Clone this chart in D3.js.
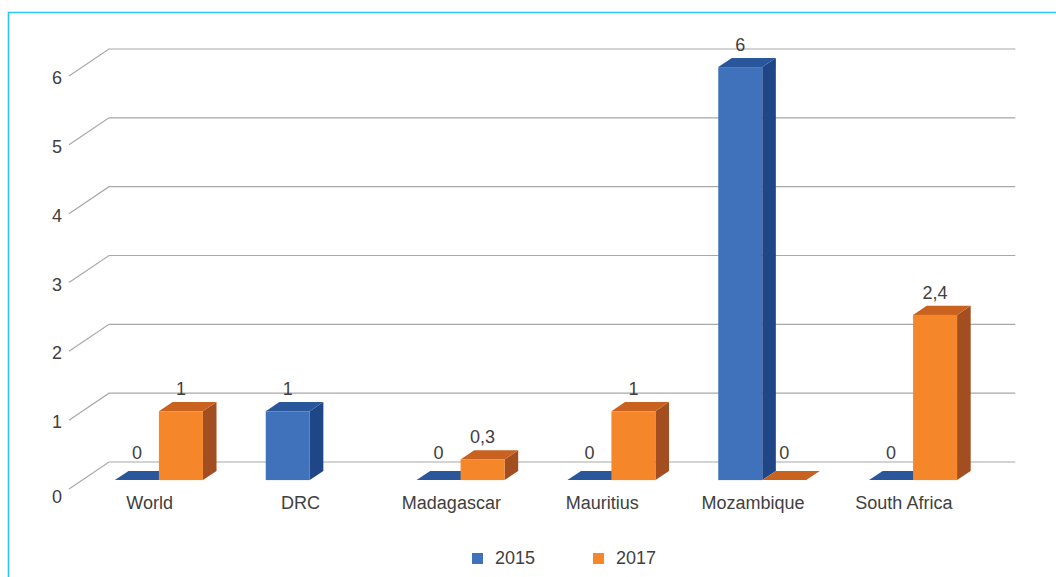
<!DOCTYPE html>
<html>
<head>
<meta charset="utf-8">
<script src="https://cdn.jsdelivr.net/npm/d3@7"></script>
<style>
  html, body { margin: 0; padding: 0; background: #fff; }
  svg { display: block; }
  text { font-family: "Liberation Sans", Arial, Helvetica, sans-serif; fill: #404040; }
</style>
</head>
<body>
<script>
const categories = ["World", "DRC", "Madagascar", "Mauritius", "Mozambique", "South Africa"];
const seriesNames = ["2015", "2017"];
const values2015 = [0, 1, 0, 0, 6, 0];
const values2017 = [1, null, 0.3, 1, 0, 2.4];
const yTicks = [0, 1, 2, 3, 4, 5, 6];
const tickLabels = ["0", "1", "2", "3", "4", "5", "6"];

const W = 1056, H = 577;
const svg = d3.select("body").append("svg").attr("width", W).attr("height", H);

// border
svg.append("path").attr("d", `M8.5,${H} L8.5,12.5 L${W},12.5`)
  .attr("fill", "none").attr("stroke", "#2ec3f2").attr("stroke-width", 1.6);

// scales (front plane of the floor)
const y = d3.scaleLinear().domain([0, 6]).range([489, 76]);
const x = d3.scaleBand().domain(categories).range([70.3, 975.3]).padding(0);
const xs = d3.scaleBand().domain(seriesNames).range([-44, 44]).padding(0);
const depth = { dx: 40, dy: -27 };
const t0 = 0.33, t1 = 0.67;

// gridlines (side wall diagonal + back wall horizontal)
const grid = svg.append("g");
yTicks.forEach(v => {
  const fy = y(v);
  grid.append("path")
    .attr("d", `M${x.range()[0] - 1.3},${fy} L${x.range()[0] - 1.3 + depth.dx},${fy + depth.dy} L${x.range()[1] + depth.dx},${fy + depth.dy}`)
    .attr("fill", "none").attr("stroke", "#a8a8a8").attr("stroke-width", 1.2);
});
// y tick labels
svg.append("g").selectAll("text").data(yTicks).join("text")
  .attr("x", 62).attr("y", d => y(d) + (d === 0 ? 8 : 2))
  .attr("text-anchor", "end").attr("dominant-baseline", "central")
  .attr("font-size", 18).text((d, i) => tickLabels[i]);

const colors = {
  "2015": { front: "#3f72ba", side: "#1f4787", top: "#2a579c" },
  "2017": { front: "#f5862a", side: "#a24e20", top: "#c9621f" }
};

const rows = [];
categories.forEach((c, i) => {
  rows.push({ cat: c, s: "2015", v: values2015[i] });
  rows.push({ cat: c, s: "2017", v: values2017[i] });
});

const bars = svg.append("g");
const labels = svg.append("g");
rows.forEach(r => {
  if (r.v === null || r.v === undefined) return;
  const cx = x(r.cat) + x.bandwidth() / 2 + xs(r.s);
  const xl = cx + t0 * depth.dx, xr = xl + xs.bandwidth();
  const yb = y(0) + t0 * depth.dy, yt = y(r.v) + t0 * depth.dy;
  const ddx = (t1 - t0) * depth.dx, ddy = (t1 - t0) * depth.dy;
  const col = colors[r.s];
  const g = bars.append("g");
  // side
  g.append("path").attr("d", `M${xr},${yt} L${xr + ddx},${yt + ddy} L${xr + ddx},${yb + ddy} L${xr},${yb} Z`)
    .attr("fill", col.side);
  // top
  g.append("path").attr("d", `M${xl},${yt} L${xl + ddx},${yt + ddy} L${xr + ddx},${yt + ddy} L${xr},${yt} Z`)
    .attr("fill", col.top);
  // front
  if (yb - yt > 0.5) {
    g.append("rect").attr("x", xl).attr("y", yt).attr("width", xr - xl).attr("height", yb - yt)
      .attr("fill", col.front);
  }
  // value label
  const label = String(r.v).replace(".", ",");
  labels.append("text")
    .attr("x", (xl + xr) / 2).attr("y", yt + ddy - (r.v === 0 ? 12 : 7))
    .attr("text-anchor", "middle").attr("font-size", 18).text(label);
});

// category labels
svg.append("g").selectAll("text").data(categories).join("text")
  .attr("x", d => x(d) + x.bandwidth() / 2 + 4).attr("y", 509)
  .attr("text-anchor", "middle").attr("font-size", 18).text(d => d);

// legend
const leg = svg.append("g");
const legendX = [472, 593];
seriesNames.forEach((s, i) => {
  leg.append("rect").attr("x", legendX[i]).attr("y", 553).attr("width", 11).attr("height", 11)
    .attr("fill", colors[s].front);
  leg.append("text").attr("x", legendX[i] + 23).attr("y", 564).attr("font-size", 18).text(s);
});
</script>
</body>
</html>
